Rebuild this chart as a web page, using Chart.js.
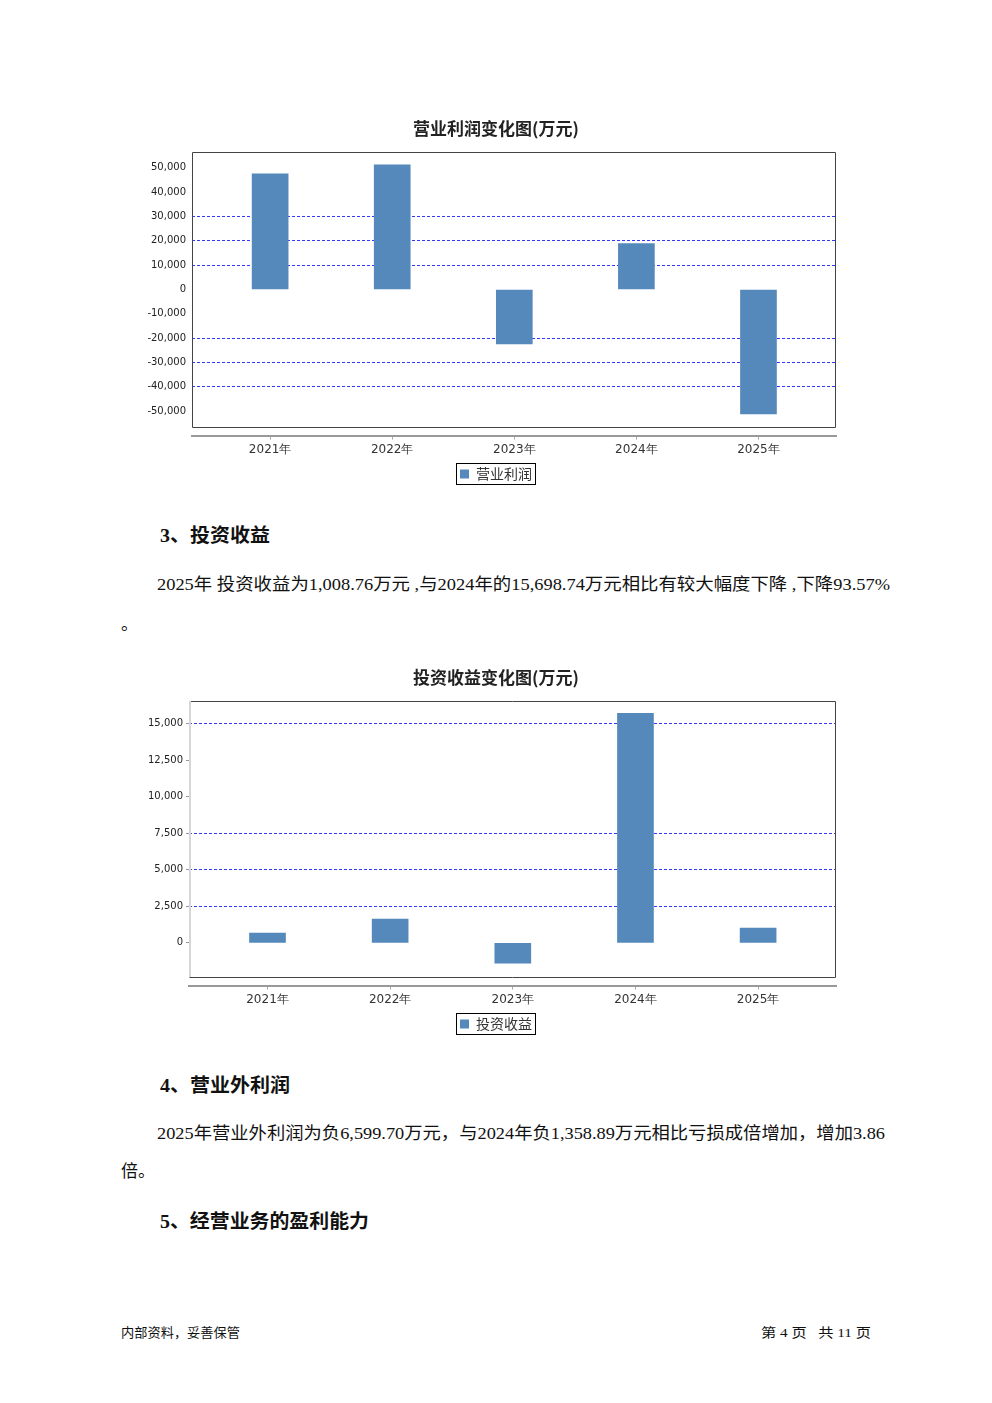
<!DOCTYPE html>
<html><head><meta charset="utf-8">
<script src="https://cdn.jsdelivr.net/npm/chart.js@4/dist/chart.umd.min.js"></script>
<style>
html,body{margin:0;padding:0;background:#fff;}
body{width:992px;height:1403px;position:relative;overflow:hidden;}
.t{position:absolute;white-space:pre;color:#111;font-family:"Liberation Serif","Noto Sans CJK SC",serif;line-height:24px;transform-origin:0 50%;}
.h{font-weight:bold;font-size:19px;}
.p{font-size:17px;}
.f{font-size:13px;}
canvas.c{position:absolute;left:148px;}
</style></head><body>
<canvas id="c1" class="c" width="696" height="392" style="top:99px"></canvas>
<div class="t h" style="left:160px;top:524px" data-w="110">3、投资收益</div>
<div class="t p" style="left:157px;top:573px" data-w="733">2025年 投资收益为1,008.76万元 ,与2024年的15,698.74万元相比有较大幅度下降 ,下降93.57%</div>
<div class="t p" style="left:121px;top:613px">。</div>
<canvas id="c2" class="c" width="696" height="393" style="top:648px"></canvas>
<div class="t h" style="left:160px;top:1074px" data-w="130">4、营业外利润</div>
<div class="t p" style="left:157px;top:1122px" data-w="728">2025年营业外利润为负6,599.70万元，与2024年负1,358.89万元相比亏损成倍增加，增加3.86</div>
<div class="t p" style="left:121px;top:1160px">倍。</div>
<div class="t h" style="left:160px;top:1210px" data-w="209">5、经营业务的盈利能力</div>
<div class="t f" style="left:121px;top:1321px" data-w="119">内部资料，妥善保管</div>
<div class="t f" style="left:761px;top:1321px" data-w="110">第 4 页   共 11 页</div>
<script>
// ---- data ----
const categories = ['2021年', '2022年', '2023年', '2024年', '2025年'];
const operatingProfit = [47500, 51200, -22400, 18900, -51100];
const investmentIncome = [666, 1628, -1394, 15698.74, 1008.76];
const yTicks1 = [-50000, -40000, -30000, -20000, -10000, 0, 10000, 20000, 30000, 40000, 50000];
const yTicks2 = [0, 2500, 5000, 7500, 10000, 12500, 15000];
const gridLines1 = [30000, 20000, 10000, -20000, -30000, -40000];
const gridLines2 = [15000, 7500, 5000, 2500];

function scaleText() {
  document.querySelectorAll('[data-w]').forEach(el => {
    el.style.transform = 'none';
    const w = el.getBoundingClientRect().width;
    el.style.transform = 'scaleX(' + (el.dataset.w / w) + ')';
  });
}
scaleText();
if (document.fonts && document.fonts.ready) document.fonts.ready.then(scaleText);

const framePlugin = {
  id: 'frame',
  afterLayout(chart, args, opts) {
    const s = opts.shift || 0;
    if (chart.titleBlock) { chart.titleBlock.left += s; chart.titleBlock.right += s; }
    if (chart.legend) { chart.legend.left += s; chart.legend.right += s; }
  },
  afterDraw(chart, args, opts) {
    const ctx = chart.ctx, a = chart.chartArea;
    const bottom = a.bottom - 9;
    ctx.save();
    ctx.setLineDash([]);
    ctx.strokeStyle = '#444';
    ctx.lineWidth = 1;
    ctx.beginPath();
    ctx.moveTo(Math.round(a.left) + 0.5, Math.round(a.top) + 0.5);
    ctx.lineTo(Math.round(a.right) - 0.5, Math.round(a.top) + 0.5);
    ctx.lineTo(Math.round(a.right) - 0.5, Math.round(bottom) + 0.5);
    ctx.lineTo(Math.round(a.left) + 0.5, Math.round(bottom) + 0.5);
    if (!opts.lightLeft) ctx.closePath();
    ctx.stroke();
    if (opts.lightLeft) {
      ctx.strokeStyle = '#d6d6d6';
      ctx.lineWidth = 2;
      ctx.beginPath();
      ctx.moveTo(Math.round(a.left) + 1, Math.round(a.top));
      ctx.lineTo(Math.round(a.left) + 1, Math.round(bottom));
      ctx.stroke();
    }
    const hb = chart.legend && chart.legend.legendHitBoxes && chart.legend.legendHitBoxes[0];
    if (hb) {
      ctx.strokeStyle = '#000';
      ctx.lineWidth = 1;
      ctx.strokeRect(Math.round(hb.left) - 3.5, Math.round(hb.top) - 3.5, Math.round(hb.width) + 7, Math.round(hb.height) + 7);
    }
    ctx.restore();
  }
};

function makeChart(id, title, label, values, yTicks, gridVals, yMin, yMax, yAxisWidth, tickLen, lightLeft) {
  return new Chart(document.getElementById(id), {
    type: 'bar',
    data: {
      datasets: [{
        label: label,
        data: values.map((v, i) => ({x: i, y: v})),
        backgroundColor: '#5588bb',
        borderWidth: 0,
        barThickness: 36
      }]
    },
    plugins: [framePlugin],
    options: {
      responsive: false,
      animation: false,
      layout: {padding: {left: 0, right: 8, top: 0, bottom: 0}},
      plugins: {
        frame: {lightLeft: lightLeft, shift: 4},
        tooltip: {enabled: false},
        title: {
          display: true, text: title, color: '#222',
          font: {family: 'Noto Sans CJK SC', size: 17, weight: 'bold'},
          padding: {top: 19.5, bottom: 13}
        },
        legend: {
          position: 'bottom',
          labels: {
            boxWidth: 9, boxHeight: 9, padding: 7, color: '#333',
            font: {family: 'Noto Sans CJK SC', size: 14}
          }
        }
      },
      scales: {
        x: {
          type: 'linear', min: -0.64, max: 4.635, offset: false,
          afterBuildTicks: s => { s.ticks = categories.map((c, i) => ({value: i})); },
          ticks: {
            callback: v => categories[v], autoSkip: false, maxRotation: 0,
            font: {family: 'DejaVu Sans', size: 12}, color: '#333', padding: 3
          },
          grid: {drawOnChartArea: false, drawTicks: true, tickLength: 4, color: '#aaa', tickColor: '#aaa', offset: false},
          border: {display: true, color: '#999', width: 2}
        },
        y: {
          min: yMin, max: yMax,
          afterBuildTicks: s => { s.ticks = yTicks.map(v => ({value: v})); },
          afterFit: s => { s.width = yAxisWidth; },
          ticks: {
            font: {family: 'DejaVu Sans', size: 10}, color: '#222',
            padding: tickLen ? 3 : 6,
            callback: v => Number(v).toLocaleString('en-US')
          },
          grid: {
            color: c => (c.tick && gridVals.includes(c.tick.value)) ? '#3636ff' : 'rgba(0,0,0,0)',
            lineWidth: 1,
            drawTicks: tickLen > 0, tickLength: tickLen, tickColor: '#999'
          },
          border: {display: false, dash: [3, 2]}
        }
      }
    }
  });
}

makeChart('c1', '营业利润变化图(万元)', '营业利润', operatingProfit, yTicks1, gridLines1, -60000, 56500, 44, 0, false);
makeChart('c2', '投资收益变化图(万元)', '投资收益', investmentIncome, yTicks2, gridLines2, -2926, 16552, 41, 3, true);
</script>
</body></html>
